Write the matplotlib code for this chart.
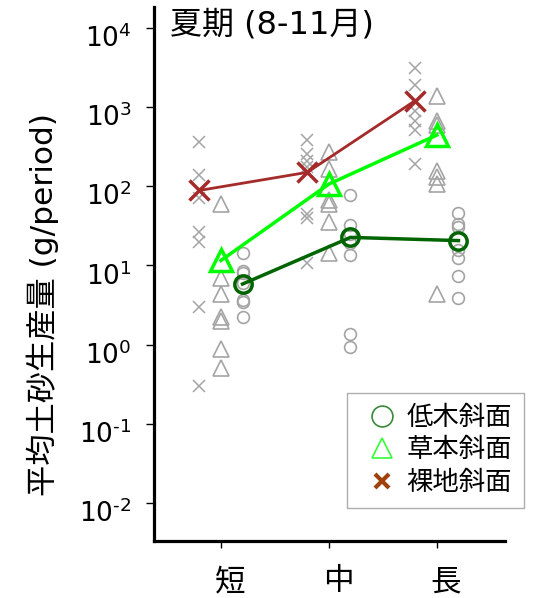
import numpy as np
import matplotlib
matplotlib.use('Agg')
import matplotlib.pyplot as plt
from matplotlib.lines import Line2D
from matplotlib.ticker import FuncFormatter, NullLocator
from matplotlib.transforms import ScaledTranslation

plt.rcParams['font.family'] = ['DejaVu Sans', 'Noto Sans CJK JP']
plt.rcParams['mathtext.default'] = 'regular'

periods = ['短', '中', '長']
series = ['低木斜面', '草本斜面', '裸地斜面']

# individual plots, per period (g/period)
bare_pts = [
    [363, 139, 71, 26, 19.4, 3.0, 0.30],
    [385, 257, 209, 176, 45, 40, 10.8],
    [3100, 1900, 890, 670, 515, 191],
]
grass_pts = [
    [60, 7.0, 4.4, 2.2, 2.0, 0.89, 0.50],
    [271, 166, 67, 60, 35, 14.5],
    [1380, 670, 595, 156, 131, 107, 4.3],
]
shrub_pts = [
    [14.2, 8.4, 7.9, 5.9, 3.6, 3.4, 2.2],
    [78, 32.6, 25, 19.3, 13.6, 1.34, 0.92],
    [46, 33.6, 30, 15.8, 12.2, 7.4, 3.9],
]

# period means
bare_mean = [88, 149, 1200]
grass_mean = [11.5, 106, 440]
shrub_mean = [5.8, 22.5, 20.5]

x = np.arange(len(periods))
off = 0.2
grey = '#a4a4a4'

fig = plt.figure(figsize=(5.39, 5.98), dpi=100)
ax = fig.add_axes([0.2857, 0.0953, 0.651, 0.893])

for i in range(len(periods)):
    ax.plot([x[i] - off] * len(bare_pts[i]), bare_pts[i], 'x', color=grey,
            ms=9, mew=1.1, ls='none')
    ax.plot([x[i]] * len(grass_pts[i]), grass_pts[i], '^', color=grey,
            mfc='none', ms=11, mew=1.2, ls='none')
    ax.plot([x[i] + off] * len(shrub_pts[i]), shrub_pts[i], 'o', color=grey,
            mfc='none', ms=8.5, mew=1.2, ls='none')

ax.plot(x - off, bare_mean, '-', color='#a52a2a', lw=2)
ax.plot(x - off, bare_mean, 'x', color='#a52a2a', ms=15, mew=2.5)
ax.plot(x, grass_mean, '-', color='#00ff00', lw=2.5)
ax.plot(x, grass_mean, '^', color='#00ff00', mfc='none', ms=16, mew=2.5)
ax.plot(x + off, shrub_mean, '-', color='#006400', lw=2.5)
ax.plot(x + off, shrub_mean, 'o', color='#006400', mfc='none', ms=12.5, mew=2.5)

ax.set_yscale('log')
ax.set_ylim(10 ** -2.48, 10 ** 4.26)
ax.set_xlim(-0.62, 2.63)
ax.set_yticks([1e-2, 1e-1, 1, 10, 100, 1e3, 1e4])
ax.yaxis.set_minor_locator(NullLocator())
ax.yaxis.set_major_formatter(FuncFormatter(
    lambda v, pos: r'$10^{\text{%d}}$' % round(np.log10(v))))
ax.set_xticks(x)
ax.set_xticklabels(periods, fontsize=22)
ax.tick_params(axis='y', labelsize=19, length=6, width=1, pad=10)
ax.tick_params(axis='x', length=5, width=1, pad=14)

# labels sit a little off their ticks
for lab in ax.get_xticklabels():
    lab.set_transform(lab.get_transform() + ScaledTranslation(0.09, 0, fig.dpi_scale_trans))
for lab in ax.get_yticklabels():
    lab.set_transform(lab.get_transform() + ScaledTranslation(0, -0.08, fig.dpi_scale_trans))

for s in ['top', 'right']:
    ax.spines[s].set_visible(False)
for s in ['left', 'bottom']:
    ax.spines[s].set_linewidth(2.3)

ax.set_ylabel('平均土砂生産量 (g/period)', fontsize=22.5)
ax.yaxis.set_label_coords(-0.27, 0.442)
ax.text(0.045, 0.995, '夏期 (8-11月)', transform=ax.transAxes,
        fontsize=23, va='top', ha='left')

handles = [
    Line2D([], [], marker='o', color='#3a8a3a', mfc='none', ls='none', ms=15, mew=1.2),
    Line2D([], [], marker='^', color='#33ff33', mfc='none', ls='none', ms=15, mew=1.2),
    Line2D([], [], marker='x', color='#a0400a', ls='none', ms=10, mew=3),
]
leg = ax.legend(handles, series, loc='lower left', bbox_to_anchor=(0.55, 0.062),
                borderaxespad=0, fontsize=19, frameon=True, fancybox=False,
                handlelength=1.75, handletextpad=0.05, labelspacing=0.25,
                borderpad=0.45)
leg.get_frame().set_edgecolor('#999999')
leg.get_frame().set_linewidth(1)
leg.set_clip_on(False)

fig.savefig('out.png', dpi=100)
